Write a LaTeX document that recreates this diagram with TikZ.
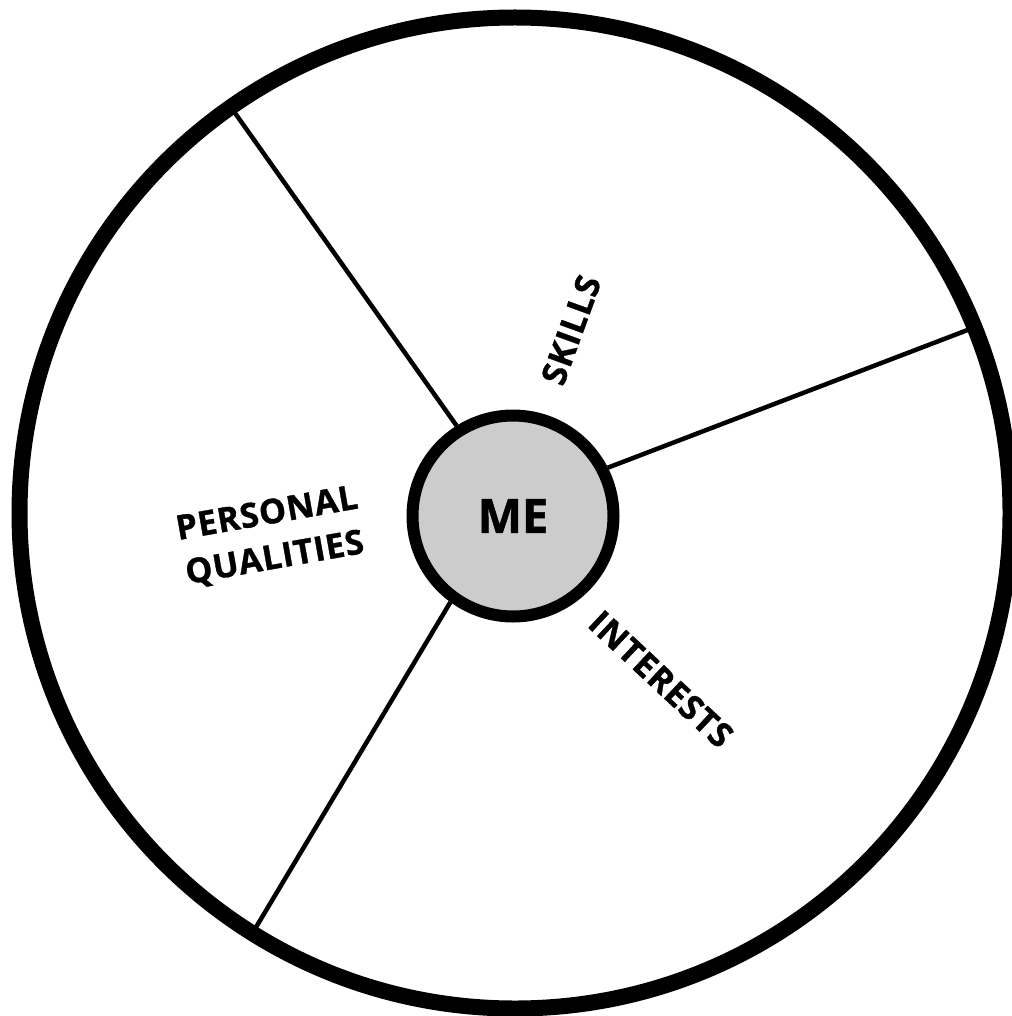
\documentclass[tikz,border=0pt]{standalone}
\usepackage{fontspec}
\setsansfont{Open Sans}[BoldFeatures={FakeBold=1}]
\newfontfamily\labelfont{Open Sans}[LetterSpace=2, BoldFeatures={FakeBold=1}]

\begin{document}
\begin{tikzpicture}[
  x=1pt, y=-1pt,
  ring/.style={circle, draw, inner sep=0pt},
  spoke/.style={line width=4.5pt},
  lbl/.style={font=\labelfont\bfseries\fontsize{34}{45}\selectfont, align=center, inner sep=0pt}
]
  \useasboundingbox (0,0) rectangle (1011,1016);
  \node[ring, line width=16pt, outer sep=0pt, minimum size=991pt] (wheel) at (515,513) {};
  \node[ring, line width=12pt, fill=black!20, minimum size=201pt,
        font=\sffamily\bfseries\fontsize{47}{47}\selectfont] (me) at (513,516) {ME};
  % spokes
  \draw[spoke] (me.122.5) -- (wheel.125.3);
  \draw[spoke] (me.27.8)  -- (wheel.22.2);
  \draw[spoke] (me.234)   -- (wheel.238);
  \node[lbl, rotate=70]  (skills)    at (571,330) {SKILLS};
  \node[lbl, rotate=10]  (qualities) at (271,537) {PERSONAL\\QUALITIES};
  \node[lbl, rotate=-43] (interests) at (661,679) {INTERESTS};
\end{tikzpicture}
\end{document}
